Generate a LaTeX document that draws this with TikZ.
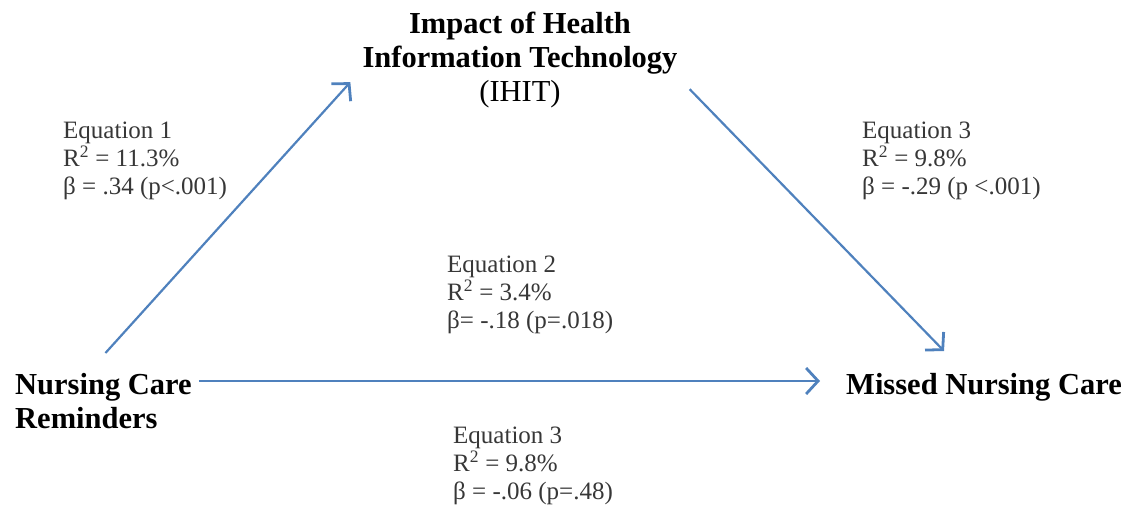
\documentclass[tikz,border=0pt]{standalone}
\usepackage{fontspec}
\setmainfont{Liberation Serif}
\usetikzlibrary{arrows.meta}
\definecolor{linkblue}{RGB}{79,129,189}
\definecolor{eqgray}{RGB}{55,55,55}
\begin{document}
\begin{tikzpicture}[x=1pt,y=-1pt,
  var/.style = {inner sep=0pt, font=\fontsize{30.5}{34}\selectfont\bfseries},
  eqn/.style = {inner sep=0pt, align=left, anchor=north west, text=eqgray, font=\fontsize{25}{28}\selectfont},
  link/.style = {draw=linkblue, line width=2.2pt, -{Straight Barb[length=12pt,width=26pt,line width=2.8pt]}}]
  \useasboundingbox (0,0) rectangle (1129,510);
  % variables
  \node[var, align=center, anchor=north] (ihit) at (520,12) {Impact of Health\\Information Technology\\{\mdseries (IHIT)}};
  \node[var, align=left, anchor=north west] (ncr) at (15,373) {Nursing Care\\Reminders};
  \node[var, anchor=north west] (mnc) at (846,373) {Missed Nursing Care};
  % equations
  \node[eqn] (eq1) at (63,122) {Equation 1\\R\textsuperscript{2} = 11.3\%\\β = .34 (p<.001)};
  \node[eqn] (eq3a) at (862,122) {Equation 3\\R\textsuperscript{2} = 9.8\%\\β = -.29 (p <.001)};
  \node[eqn] (eq2) at (447,256) {Equation 2\\R\textsuperscript{2} = 3.4\%\\β= -.18 (p=.018)};
  \node[eqn] (eq3b) at (453,427) {Equation 3\\R\textsuperscript{2} = 9.8\%\\β = -.06 (p=.48)};
  % paths
  \coordinate (hs) at ([xshift=7pt,yshift=-8pt]ncr.north east);
  \draw[link] ([xshift=2pt,yshift=20pt]ncr.north) -- ([xshift=-12pt,yshift=-22pt]ihit.west);
  \draw[link, shorten >=26pt] (hs) -- (hs -| mnc.west);
  \draw[link] ([xshift=12pt,yshift=-29pt]ihit.east) -- ([xshift=-40pt,yshift=22pt]mnc.north);
\end{tikzpicture}
\end{document}
